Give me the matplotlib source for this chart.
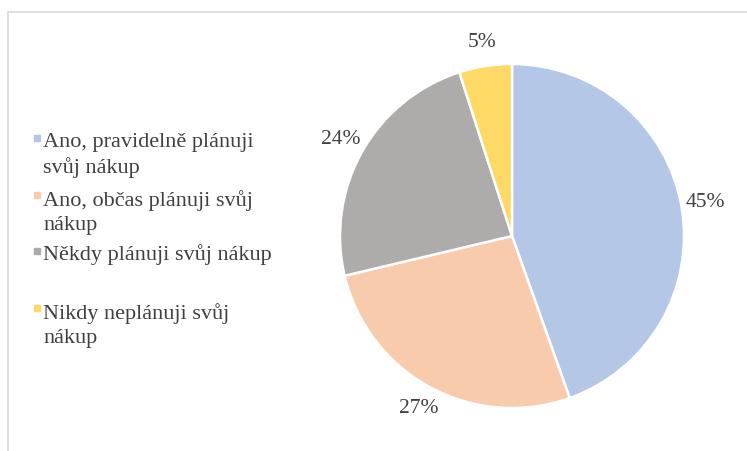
import matplotlib.pyplot as plt
from matplotlib.lines import Line2D

# data
labels = [
    "Ano, pravidelně plánuji\nsvůj nákup",
    "Ano, občas plánuji svůj\nnákup",
    "Někdy plánuji svůj nákup",
    "Nikdy neplánuji svůj\nnákup",
]
values = [45, 27, 24, 5]
colors = ["#B4C7E7", "#F8CBAD", "#AEABAB", "#FFD966"]

text_color = "#404040"
plt.rcParams['font.family'] = ['Liberation Serif', 'DejaVu Serif']

W, H = 747, 451
fig = plt.figure(figsize=(W / 100, H / 100), dpi=100)

# pie centre (512, 236) px, radius 172 px; limits are +-1.25 so axes = 430 px
cx, cy, r = 512, 236, 172
side = r * 1.25 * 2
ax = fig.add_axes([(cx - side / 2) / W, (H - cy - side / 2) / H, side / W, side / H])

wedges, texts = ax.pie(
    values,
    colors=colors,
    startangle=90,
    counterclock=False,
    labels=[f"{v}%" for v in values],
    labeldistance=1.14,
    wedgeprops={'edgecolor': 'white', 'linewidth': 1.8},
    textprops={'fontsize': 15.5, 'color': text_color},
)
for t in texts:
    t.set_ha('center')
    t.set_va('center')
ax.set_xlim(-1.25, 1.25)
ax.set_ylim(-1.25, 1.25)
ax.set_aspect('equal')

# legend, drawn by hand so every entry keeps the same slot height
first_base = 147
slot = 56.5
line_pitch = 26
for i, (lab, col) in enumerate(zip(labels, colors)):
    y = first_base + i * slot
    # va='baseline' puts the last line on y, so move down by the extra lines
    y_last = y + lab.count('\n') * line_pitch
    fig.text(43 / W, 1 - y_last / H, lab, ha='left', va='baseline',
             fontsize=16, color=text_color, linespacing=1.31)
    fig.add_artist(Line2D([36.5 / W], [1 - (y - 9) / H], marker='s',
                          markersize=4.5, color=col, linestyle='none'))

# light frame of the chart area
fig.add_artist(Line2D([8 / W, 8 / W, 1], [0, 1 - 12 / H, 1 - 12 / H],
                      color='#D9D9D9', linewidth=1.2))

fig.savefig('out.png', dpi=100)
